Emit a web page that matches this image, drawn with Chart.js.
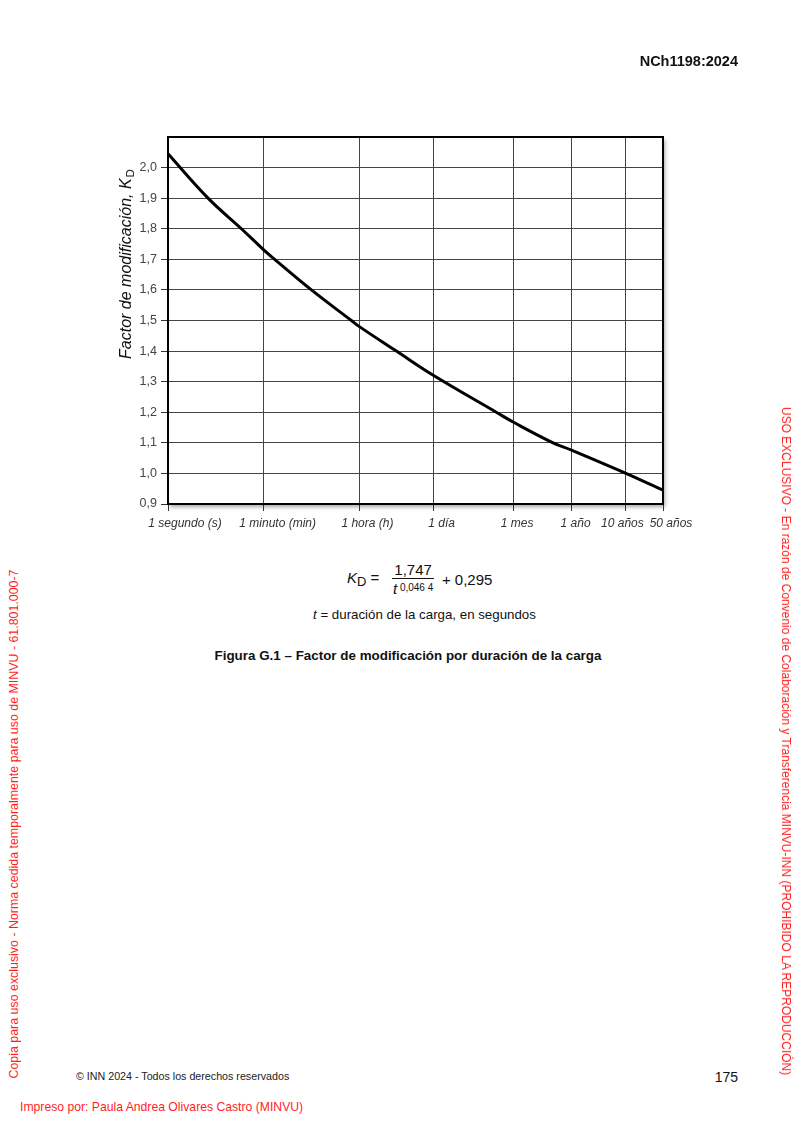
<!DOCTYPE html>
<html lang="es">
<head>
<meta charset="utf-8">
<title>Figura G.1 - Factor de modificación por duración de la carga</title>
<script src="https://cdn.jsdelivr.net/npm/chart.js@4.4.0/dist/chart.umd.min.js"></script>
<style>
  html, body { margin: 0; padding: 0; background: #fff; }
  body { width: 800px; height: 1131px; position: relative; overflow: hidden;
         font-family: "Liberation Sans", Arial, sans-serif; color: #111; }
  #chart { position: absolute; left: 0; top: 0; }
  .abs { position: absolute; white-space: nowrap; }
  .red { color: #ff1f1f; }
  #code { right: 62px; top: 53px; font-weight: bold; font-size: 14.5px; }
  #formula { left: 347px; top: 562px; font-size: 15px; display: flex; align-items: center; }
  #formula sub { font-size: 13px; vertical-align: -3px; }
  .frac { display: inline-flex; flex-direction: column; align-items: center; margin: 0 8px 0 13px; }
  .frac .num { border-bottom: 1px solid #111; padding: 0 2px 1px; line-height: 15px; }
  .frac .den { line-height: 14px; padding-top: 2px; }
  .frac .den sup { font-size: 10px; vertical-align: 3px; }
  #tdef { left: 313px; top: 607px; font-size: 13.3px; }
  #caption { left: 0; width: 816px; text-align: center; top: 648px; font-weight: bold; font-size: 13.4px; }
  #footer { left: 76px; top: 1070px; font-size: 10.7px; color: #222; }
  #page { right: 62px; top: 1069px; font-size: 14px; }
  #printed { left: 20px; top: 1100px; font-size: 12.2px; }
  .vert { font-size: 12.4px; transform: translate(-50%, -50%) rotate(-90deg); }
  .vert.r { font-size: 12px; transform: translate(-50%, -50%) rotate(90deg); }
</style>
</head>
<body>
<canvas id="chart" width="800" height="560"></canvas>

<div class="abs" id="code">NCh1198:2024</div>

<div class="abs" id="formula">
  <span><i>K</i><sub>D</sub> =</span>
  <span class="frac"><span class="num">1,747</span><span class="den"><i>t</i><sup> 0,046 4</sup></span></span>
  <span>+ 0,295</span>
</div>
<div class="abs" id="tdef"><i>t</i> = duración de la carga, en segundos</div>
<div class="abs" id="caption">Figura G.1 – Factor de modificación por duración de la carga</div>

<div class="abs" id="footer">© INN 2024 - Todos los derechos reservados</div>
<div class="abs" id="page">175</div>
<div class="abs red" id="printed">Impreso por: Paula Andrea Olivares Castro (MINVU)</div>
<div class="abs red vert" style="left:14px; top:824px;">Copia para uso exclusivo - Norma cedida temporalmente para uso de MINVU - 61.801.000-7</div>
<div class="abs red vert r" style="left:786px; top:741px;">USO EXCLUSIVO - En razón de Convenio de Colaboración y Transferencia MINVU-INN (PROHIBIDO LA REPRODUCCIÓN)</div>

<script>
// duración de la carga (s) y factor K_D
const loadSeconds = [1, 5.54, 23.1, 60, 96, 462, 2557, 3600, 17500, 86400,
                     1260000, 2592000, 14300000, 31536000, 315360000, 1576800000];
const kdValues = [2.045, 1.90, 1.80, 1.731, 1.70, 1.60, 1.50, 1.48, 1.40, 1.32,
                  1.20, 1.168, 1.10, 1.076, 1.001, 0.945];

// marcas del eje de tiempo
const tickSeconds = [1, 60, 3600, 86400, 2592000, 31536000, 315360000, 1576800000];
const tickLabels = ['1 segundo (s)', '1 minuto (min)', '1 hora (h)', '1 día',
                    '1 mes', '1 año', '10 años', '50 años'];
// corrimiento horizontal de cada rótulo, como en la figura original (px)
const tickLabelNudge = [17, 14, 8, 8, 4, 4, -3, 8];

const yMin = 0.9, yMax = 2.1, yStep = 0.1;

const gridGray = '#444';
const fontFamily = '"Liberation Sans", Arial, sans-serif';

// sombra y marco superior/derecho del área de trazado
const framePlugin = {
  id: 'frame',
  beforeDraw(chart) {
    const {ctx, chartArea: a} = chart;
    ctx.save();
    ctx.fillStyle = '#fff';
    ctx.shadowColor = 'rgba(0,0,0,0.35)';
    ctx.shadowBlur = 4;
    ctx.shadowOffsetX = 2;
    ctx.shadowOffsetY = 3;
    ctx.fillRect(a.left, a.top, a.right - a.left, a.bottom - a.top);
    ctx.restore();
  },
  afterDatasetsDraw(chart) {
    const {ctx, chartArea: a} = chart;
    ctx.save();
    ctx.strokeStyle = '#000';
    ctx.lineWidth = 2;
    ctx.beginPath();
    ctx.moveTo(a.left, a.top);
    ctx.lineTo(a.right, a.top);
    ctx.lineTo(a.right, a.bottom);
    ctx.stroke();
    ctx.restore();
  }
};

// rótulos del eje X (cursiva) y título del eje Y con subíndice
const labelsPlugin = {
  id: 'labels',
  afterDraw(chart) {
    const {ctx, chartArea: a} = chart;
    const xs = chart.scales.x;
    ctx.save();
    ctx.fillStyle = '#333';
    ctx.font = 'italic 12px ' + fontFamily;
    ctx.textAlign = 'center';
    ctx.textBaseline = 'middle';
    tickSeconds.forEach((v, i) => {
      ctx.fillText(tickLabels[i], xs.getPixelForValue(v) + tickLabelNudge[i], a.bottom + 20);
    });
    ctx.restore();

    const main = 'Factor de modificación, K';
    const big = 'italic 16px ' + fontFamily;
    const small = '11.5px ' + fontFamily;
    ctx.save();
    ctx.font = big;
    const w1 = ctx.measureText(main).width;
    ctx.font = small;
    const w2 = ctx.measureText('D').width;
    ctx.translate(131, 264);
    ctx.rotate(-Math.PI / 2);
    ctx.fillStyle = '#111';
    ctx.textBaseline = 'alphabetic';
    const x0 = -(w1 + w2 + 1) / 2;
    ctx.font = big;
    ctx.fillText(main, x0, 0);
    ctx.font = small;
    ctx.fillText('D', x0 + w1 + 1, 3);
    ctx.restore();
  }
};

new Chart(document.getElementById('chart'), {
  type: 'line',
  data: {
    datasets: [{
      data: loadSeconds.map((t, i) => ({x: t, y: kdValues[i]})),
      borderColor: '#000',
      borderWidth: 3,
      pointRadius: 0,
      tension: 0.4,
      fill: false
    }]
  },
  options: {
    responsive: false,
    animation: false,
    layout: { padding: { left: 108, right: 137, top: 137, bottom: 20 } },
    plugins: { legend: { display: false }, tooltip: { enabled: false }, title: { display: false } },
    scales: {
      x: {
        type: 'logarithmic',
        min: tickSeconds[0],
        max: tickSeconds[tickSeconds.length - 1],
        afterBuildTicks: axis => { axis.ticks = tickSeconds.map(v => ({value: v})); },
        afterFit: axis => { axis.height = 36; },
        grid: { color: gridGray, lineWidth: 1, tickLength: 7, tickColor: '#333' },
        border: { color: '#000', width: 2 },
        ticks: { display: false, autoSkip: false, maxRotation: 0 }
      },
      y: {
        min: yMin,
        max: yMax,
        afterFit: axis => { axis.width = 60; },
        grid: {
          color: gridGray, lineWidth: 1, tickLength: 7,
          tickColor: c => (c.tick && c.tick.value > yMax - yStep / 2) ? 'rgba(0,0,0,0)' : '#333'
        },
        border: { color: '#000', width: 2 },
        ticks: {
          stepSize: yStep,
          padding: 4,
          color: '#444',
          font: { family: fontFamily, size: 12.5 },
          callback: v => v > yMax - yStep / 2 ? '' : v.toFixed(1).replace('.', ',')
        }
      }
    }
  },
  plugins: [framePlugin, labelsPlugin]
});
</script>
</body>
</html>
